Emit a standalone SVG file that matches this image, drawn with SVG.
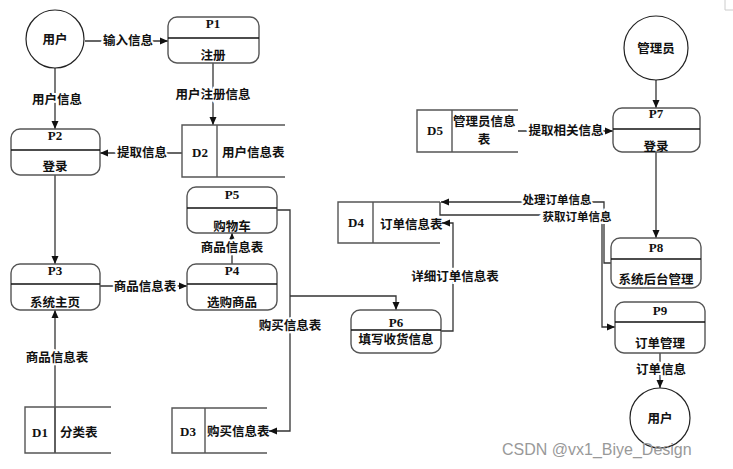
<svg xmlns="http://www.w3.org/2000/svg" width="733" height="469" viewBox="0 0 733 469">
<defs>
<marker id="arr" markerUnits="userSpaceOnUse" markerWidth="9" markerHeight="8" refX="8" refY="4" orient="auto">
<path d="M0,0.5 L8,4 L0,7.5 Z" fill="#111"/>
</marker>
<style>
.box{fill:#fff;stroke:#555;stroke-width:1.4}
.div{stroke:#111;stroke-width:1.4}
.ds{fill:none;stroke:#555;stroke-width:1.4}
.cn{fill:none;stroke:#333;stroke-width:1.3}
.t{font-family:"Noto Sans CJK SC","Liberation Serif",serif;font-weight:bold;font-size:12.5px;fill:#111;text-anchor:middle}
.ts{font-family:"Noto Sans CJK SC","Liberation Serif",serif;font-weight:bold;font-size:12.5px;fill:#111}
.p{font-family:"Liberation Serif","Noto Sans CJK SC",serif;font-weight:bold;font-size:13px;fill:#111;text-anchor:middle}
.lb{font-family:"Noto Sans CJK SC","Liberation Serif",serif;font-weight:bold;font-size:12.5px;fill:#111;text-anchor:middle;stroke:#fff;stroke-width:4;paint-order:stroke}
.sm{font-size:11.5px}
.circ{fill:#fff;stroke:#222;stroke-width:1.2}
</style>
</defs>
<rect width="733" height="469" fill="#fff"/>
<path d="M725 0 V10 H733" fill="none" stroke="#ccc" stroke-width="1"/>

<g id="connectors">
<path class="cn" d="M85 41 H168" marker-end="url(#arr)"/>
<path class="cn" d="M55 68 V129" marker-end="url(#arr)"/>
<path class="cn" d="M213 63 V125" marker-end="url(#arr)"/>
<path class="cn" d="M182 153 H100" marker-end="url(#arr)"/>
<path class="cn" d="M55 175 V264" marker-end="url(#arr)"/>
<path class="cn" d="M55 453 V310" marker-end="url(#arr)"/>
<path class="cn" d="M100 286 H187" marker-end="url(#arr)"/>
<path class="cn" d="M232 264 V233" marker-end="url(#arr)"/>
<path class="cn" d="M277 210 H290 V431 H269" marker-end="url(#arr)"/>
<path class="cn" d="M290 296 H396 V310" marker-end="url(#arr)"/>
<path class="cn" d="M441 331 H453 V223 H442" marker-end="url(#arr)"/>
<path class="cn" d="M612 263 H604 V202 H441" marker-end="url(#arr)"/>
<path class="cn" d="M440 202 V215 H602 V327 H615" marker-end="url(#arr)"/>
<path class="cn" d="M518 131 H613" marker-end="url(#arr)"/>
<path class="cn" d="M656 80 V108" marker-end="url(#arr)"/>
<path class="cn" d="M656 152 V238" marker-end="url(#arr)"/>
<path class="cn" d="M660 353 V388" marker-end="url(#arr)"/>
<text class="lb" x="128" y="45">输入信息</text>
<text class="lb" x="57" y="104">用户信息</text>
<text class="lb" x="213" y="99">用户注册信息</text>
<text class="lb" x="142" y="157">提取信息</text>
<text class="lb" x="57" y="362">商品信息表</text>
<text class="lb" x="145" y="291">商品信息表</text>
<text class="lb" x="232" y="252">商品信息表</text>
<text class="lb" x="290" y="330">购买信息表</text>
<text class="lb" x="455" y="281">详细订单信息表</text>
<text class="lb sm" x="557" y="203.5">处理订单信息</text>
<text class="lb sm" x="577" y="220.5">获取订单信息</text>
<text class="lb" x="566" y="135">提取相关信息</text>
<text class="lb" x="661" y="374">订单信息</text>
</g>

<g id="user1"><circle class="circ" cx="55" cy="39" r="29"/><text class="t" x="55" y="44">用户</text></g>
<g id="admin"><circle class="circ" cx="656" cy="48" r="32"/><text class="t" x="656" y="53">管理员</text></g>
<g id="user2"><circle class="circ" cx="660" cy="418" r="30"/><text class="t" x="660" y="423">用户</text></g>

<g id="P1"><rect class="box" x="168" y="17" width="91" height="46" rx="9"/><line class="div" x1="168" y1="38" x2="259" y2="38"/><text class="p" x="213" y="28">P1</text><text class="t" x="213" y="60">注册</text></g>
<g id="P2"><rect class="box" x="11" y="129" width="89" height="46" rx="9"/><line class="div" x1="11" y1="150" x2="100" y2="150"/><text class="p" x="55" y="140">P2</text><text class="t" x="55" y="171">登录</text></g>
<g id="P3"><rect class="box" x="11" y="264" width="89" height="46" rx="9"/><line class="div" x1="11" y1="284" x2="100" y2="284"/><text class="p" x="55" y="275">P3</text><text class="t" x="55" y="307">系统主页</text></g>
<g id="P4"><rect class="box" x="187" y="264" width="90" height="46" rx="9"/><line class="div" x1="187" y1="284" x2="277" y2="284"/><text class="p" x="232" y="275">P4</text><text class="t" x="232" y="307">选购商品</text></g>
<g id="P5"><rect class="box" x="187" y="187" width="90" height="46" rx="9"/><line class="div" x1="187" y1="208" x2="277" y2="208"/><text class="p" x="232" y="199">P5</text><text class="t" x="232" y="231">购物车</text></g>
<g id="P6"><rect class="box" x="351" y="310" width="90" height="43" rx="9"/><line class="div" x1="351" y1="330" x2="441" y2="330"/><text class="p" x="396" y="327">P6</text><text class="t" x="396" y="344">填写收货信息</text></g>
<g id="P7"><rect class="box" x="613" y="108" width="87" height="44" rx="9"/><line class="div" x1="613" y1="129" x2="700" y2="129"/><text class="p" x="656" y="118">P7</text><text class="t" x="656" y="151">登录</text></g>
<g id="P8"><rect class="box" x="611" y="238" width="90" height="50" rx="9"/><line class="div" x1="611" y1="259" x2="701" y2="259"/><text class="p" x="656" y="252">P8</text><text class="t" x="656" y="284">系统后台管理</text></g>
<g id="P9"><rect class="box" x="615" y="302" width="90" height="51" rx="9"/><line class="div" x1="615" y1="322" x2="705" y2="322"/><text class="p" x="660" y="315">P9</text><text class="t" x="660" y="348">订单管理</text></g>

<g id="D1"><path class="ds" d="M111 407 H25 V453 H111 M55 407 V453"/><text class="p" x="40" y="437">D1</text><text class="ts" x="60" y="437">分类表</text></g>
<g id="D2"><path class="ds" d="M285 125 H182 V177 H285 M217 125 V177"/><text class="p" x="200" y="157">D2</text><text class="ts" x="222" y="157">用户信息表</text></g>
<g id="D3"><path class="ds" d="M267 408 H172 V453 H267 M205 408 V453"/><text class="p" x="188" y="436">D3</text><text class="ts" x="207" y="436">购买信息表</text></g>
<g id="D4"><path class="ds" d="M440 202 H338 V243 H440 M373 202 V243"/><text class="p" x="356" y="227">D4</text><text class="ts" x="380" y="229">订单信息表</text></g>
<g id="D5"><path class="ds" d="M518 110 H417 V152 H518 M452 110 V152"/><text class="p" x="435" y="135">D5</text><text class="ts" x="453" y="126">管理员信息</text><text class="t" x="484" y="144">表</text></g>

<text x="502" y="455" font-family="Liberation Sans, Arial, sans-serif" font-size="16" fill="#999">CSDN @vx1_Biye_Design</text>
</svg>
